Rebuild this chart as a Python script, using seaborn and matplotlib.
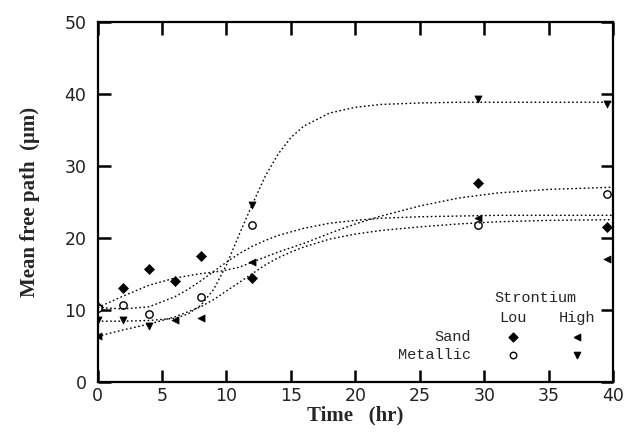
import numpy as np
import pandas as pd
import matplotlib
matplotlib.use("Agg")
import matplotlib.pyplot as plt
import seaborn as sns

# ---------- data ----------
# measured points
sand_low_t = [0, 2, 4, 6, 8, 12, 29.5, 39.5]
sand_low_y = [10.4, 13.0, 15.7, 14.0, 17.4, 14.4, 27.6, 21.5]

sand_high_t = [0, 6, 8, 12, 29.5, 39.5]
sand_high_y = [6.3, 8.6, 8.8, 16.6, 22.7, 17.0]

met_low_t = [0, 2, 4, 8, 12, 29.5, 39.5]
met_low_y = [10.3, 10.6, 9.4, 11.7, 21.8, 21.8, 26.0]

met_high_t = [0, 2, 4, 12, 29.5, 39.5]
met_high_y = [8.5, 8.5, 7.8, 24.5, 39.2, 38.6]

# fitted curves (read at these times)
curve_t = [0, 2, 4, 6, 7, 8, 9, 10, 11, 12, 13, 14, 15, 16, 18, 20, 22, 25, 28, 31, 35, 40]
fit_met_high = [8.4, 8.4, 8.5, 8.8, 9.4, 10.6, 12.8, 16.2, 20.5, 24.6, 28.5, 31.6, 33.9, 35.5,
                37.3, 38.1, 38.5, 38.7, 38.8, 38.8, 38.8, 38.8]
fit_met_low = [10.3, 10.1, 10.4, 11.8, 12.8, 14.0, 15.3, 16.6, 17.8, 18.8, 19.6, 20.3, 20.8, 21.3,
               22.0, 22.4, 22.7, 22.9, 23.0, 23.1, 23.1, 23.1]
fit_sand_low = [10.3, 11.9, 13.4, 14.4, 14.7, 15.0, 15.2, 15.5, 15.9, 16.6, 17.3, 18.0, 18.6, 19.2,
                20.6, 21.9, 23.0, 24.4, 25.5, 26.2, 26.7, 27.0]
fit_sand_high = [6.3, 7.2, 8.0, 9.0, 9.7, 10.4, 11.4, 12.6, 13.8, 15.0, 16.2, 17.2, 18.0, 18.7,
                 19.8, 20.5, 21.0, 21.5, 21.9, 22.2, 22.4, 22.5]

# ---------- style ----------
sns.set_style("ticks")
plt.rcParams['font.family'] = ['DejaVu Sans']

fig = plt.figure(figsize=(6.34, 4.41), dpi=100)
ax = fig.add_axes([0.154, 0.1345, 0.813, 0.8165])

dots = (0, (1.2, 1.8))
for fit in [fit_met_high, fit_met_low, fit_sand_low, fit_sand_high]:
    sns.lineplot(x=curve_t, y=fit, ax=ax, color='black', lw=1.0, linestyle=dots)

sns.scatterplot(x=sand_low_t, y=sand_low_y, ax=ax, marker='D', s=26, color='black',
                edgecolor='black', linewidth=0.5)
sns.scatterplot(x=sand_high_t, y=sand_high_y, ax=ax, marker='<', s=26, color='black',
                edgecolor='black', linewidth=0.5)
sns.scatterplot(x=met_low_t, y=met_low_y, ax=ax, marker='o', s=28, facecolor='white',
                edgecolor='black', linewidth=1.0)
sns.scatterplot(x=met_high_t, y=met_high_y, ax=ax, marker='v', s=26, color='black',
                edgecolor='black', linewidth=0.5)

ax.set_xlim(0, 40)
ax.set_ylim(0, 50)
ax.xaxis.set_major_locator(matplotlib.ticker.MultipleLocator(5))
ax.yaxis.set_major_locator(matplotlib.ticker.MultipleLocator(10))

for s in ax.spines.values():
    s.set_linewidth(1.6)
    s.set_color('black')

ax.set_xlabel('Time   (hr)', family='Liberation Serif', fontweight='bold', fontsize=15, labelpad=0)
ax.set_ylabel('Mean free path  (\u03bcm)', family='Liberation Serif', fontweight='bold',
              fontsize=15, labelpad=18)

# ---------- hand-made legend ----------
mono = 'Liberation Mono'
ax.text(34.0, 11.6, 'Strontium', ha='center', va='center', family=mono, fontsize=11)
ax.text(32.2, 8.8, 'Lou', ha='center', va='center', family=mono, fontsize=11)
ax.text(37.2, 8.8, 'High', ha='center', va='center', family=mono, fontsize=11)
ax.text(29.0, 6.2, 'Sand', ha='right', va='center', family=mono, fontsize=11)
ax.text(29.0, 3.7, 'Metallic', ha='right', va='center', family=mono, fontsize=11)
ax.scatter([32.2], [6.2], marker='D', s=20, color='black')
ax.scatter([37.2], [6.2], marker='<', s=20, color='black')
ax.scatter([32.2], [3.7], marker='o', s=22, facecolor='white', edgecolor='black', linewidth=1.0)
ax.scatter([37.2], [3.7], marker='v', s=20, color='black')

# ticks last, so nothing above can reset them
ax.tick_params(axis='x', direction='in', length=9, width=1.8, color='black',
               top=True, bottom=True, labelsize=12.5, labelcolor='#222222', pad=4)
ax.tick_params(axis='y', direction='in', length=9, width=1.8, color='black',
               left=True, right=True, labelsize=12.5, labelcolor='#222222', pad=8)

fig.savefig('out.png', dpi=100)
